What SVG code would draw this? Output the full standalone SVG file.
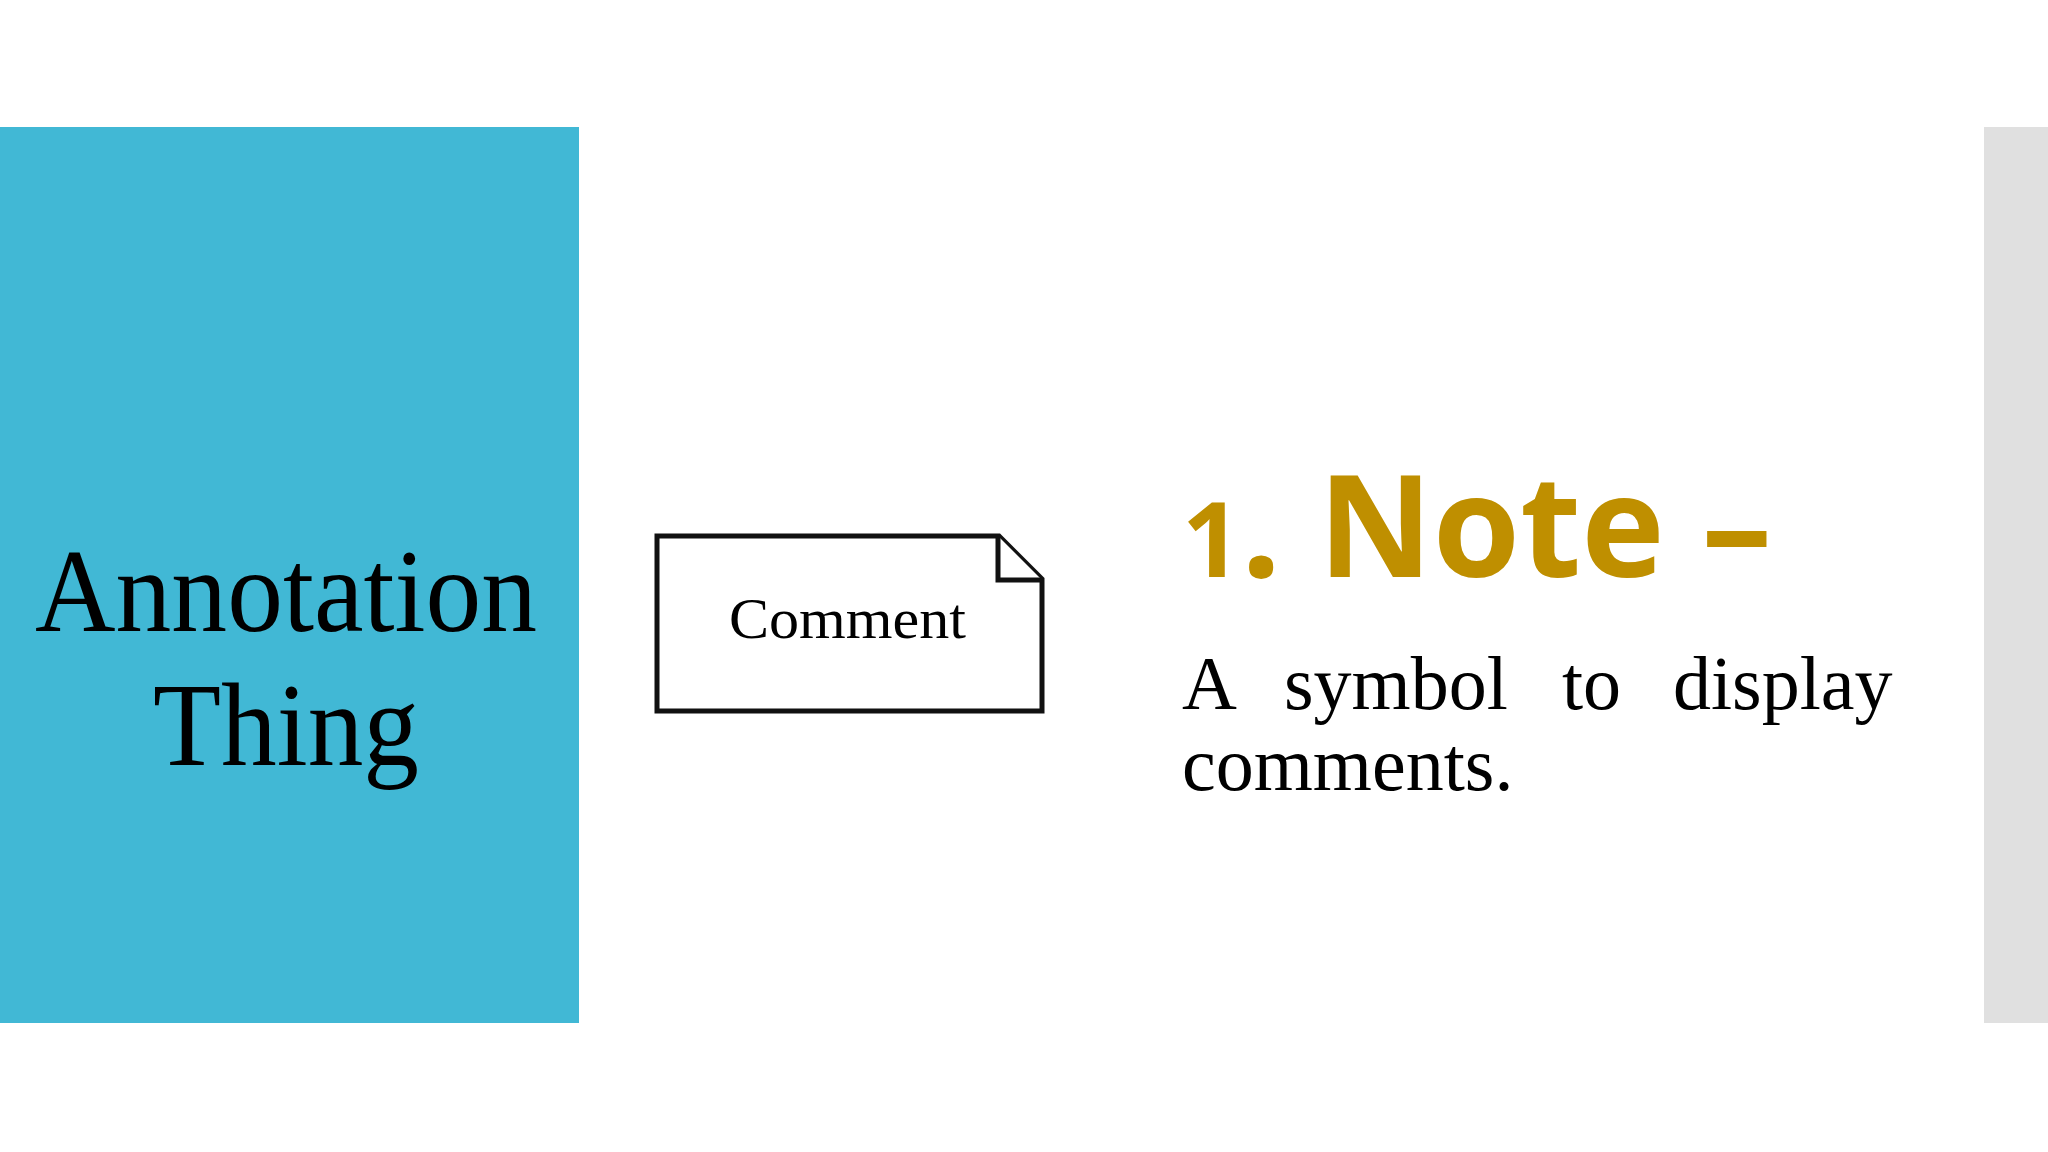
<svg xmlns="http://www.w3.org/2000/svg" width="2048" height="1152" viewBox="0 0 2048 1152">
  <style>
    .serif { font-family: "Liberation Serif", "Times New Roman", serif; fill: #000; }
    .title { font-family: "Open Sans", "Noto Sans", sans-serif; font-weight: 700; fill: #BF8F00; }
    .note { fill: #fff; stroke: #111; stroke-width: 5; stroke-linejoin: miter; }
  </style>
  <rect x="0" y="0" width="2048" height="1152" fill="#ffffff"/>
  <g id="left-panel">
    <rect x="0" y="127" width="579" height="896" fill="#41B8D5"/>
    <text class="serif" x="286" y="631" font-size="118" text-anchor="middle" textLength="502" lengthAdjust="spacingAndGlyphs">Annotation</text>
    <text class="serif" x="286" y="765" font-size="118" text-anchor="middle" textLength="266" lengthAdjust="spacingAndGlyphs">Thing</text>
  </g>
  <g id="right-panel">
    <rect x="1984" y="127" width="64" height="896" fill="#E0E0E0"/>
  </g>
  <g id="note-symbol">
    <path class="note" d="M657 536 L999 536 L1042 579 L1042 711 L657 711 Z"/>
    <path class="note" fill="none" d="M998 536 L998 580 L1042 580"/>
    <text class="serif" x="729" y="638" font-size="58" fill="#1a1a1a" textLength="237" lengthAdjust="spacingAndGlyphs">Comment</text>
  </g>
  <g id="title">
    <text class="title" x="1182" y="577" font-size="142" textLength="590" lengthAdjust="spacingAndGlyphs"><tspan font-size="104">1</tspan>. Note –</text>
  </g>
  <g id="description">
    <text class="serif" y="709" font-size="76"><tspan x="1182">A</tspan><tspan x="1284">symbol</tspan><tspan x="1562">to</tspan><tspan x="1673">display</tspan></text>
    <text class="serif" x="1182" y="790" font-size="76">comments.</text>
  </g>
  <g id="connectors"/>
</svg>
